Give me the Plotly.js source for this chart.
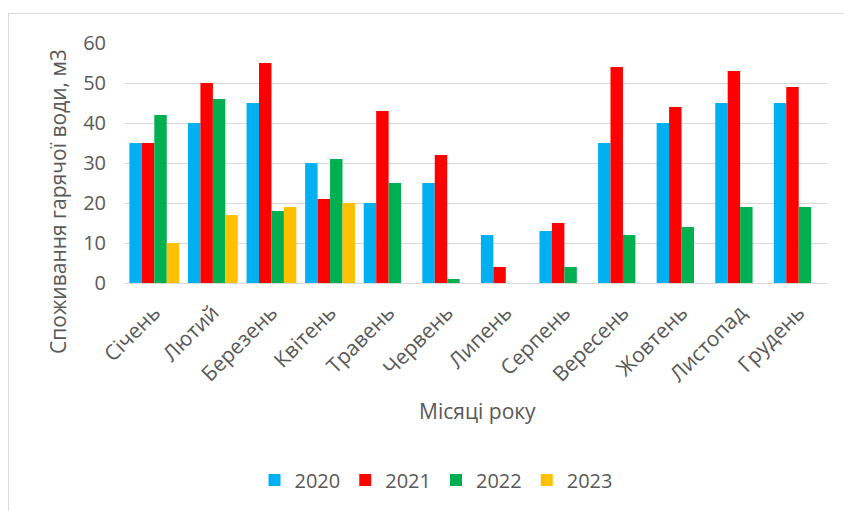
<!DOCTYPE html>
<html>
<head>
<meta charset="utf-8">
<script src="https://cdn.plot.ly/plotly-3.0.1.min.js"></script>
<style>
html,body{margin:0;padding:0;background:#fff;}
#wrap{position:relative;width:844px;height:511px;overflow:hidden;}
#frame{position:absolute;left:8px;top:13px;width:900px;height:600px;border:1px solid #d9d9d9;box-sizing:border-box;pointer-events:none;}
#chart{position:absolute;left:0;top:0;width:844px;height:511px;}
</style>
</head>
<body>
<div id="wrap">
<div id="chart"></div>
<div id="frame"></div>
</div>
<script>
const months = ["Січень","Лютий","Березень","Квітень","Травень","Червень","Липень","Серпень","Вересень","Жовтень","Листопад","Грудень"];
const years = ["2020","2021","2022","2023"];
const v2020 = [35,40,45,30,20,25,12,13,35,40,45,45];
const v2021 = [35,50,55,21,43,32,4,15,54,44,53,49];
const v2022 = [42,46,18,31,25,1,0,4,12,14,19,19];
const v2023 = [10,17,19,20,null,null,null,null,null,null,null,null];
const colors = ["#00B0F0","#FF0000","#00B050","#FFC000"];
const series = [v2020,v2021,v2022,v2023];
const yTitle = "Споживання гарячої води, м3";
const xTitle = "Місяці року";

const FONT = "Open Sans, Noto Sans, sans-serif";
const GREY = "#595959";

const traces = series.map((vals,i)=>({
  type:"bar", x:months, y:vals, name:years[i],
  marker:{color:colors[i]}
}));

const layout = {
  width:844, height:511,
  margin:{l:125,r:16,t:43,b:228},
  paper_bgcolor:"rgba(0,0,0,0)", plot_bgcolor:"#fff",
  barmode:"group", bargap:0.15, bargroupgap:0,
  font:{family:FONT,color:GREY,size:20},
  xaxis:{
    tickangle:-45, tickfont:{size:21,color:GREY}, showgrid:false,
    showline:true, linecolor:"#d9d9d9", linewidth:1, ticks:"",
    ticklabelstandoff:8
  },
  yaxis:{
    range:[0,60], dtick:10, tickfont:{size:20,color:GREY},
    gridcolor:"#d9d9d9", gridwidth:1, zeroline:false, ticks:"",
    ticklabelstandoff:18, fixedrange:true
  },
  showlegend:true,
  legend:{orientation:"h", x:(436-125)/703, xanchor:"center", y:(283-480)/240, yanchor:"middle",
    font:{size:20,color:GREY}, itemwidth:30, traceorder:"normal"},
  annotations:[
    {text:yTitle, xref:"paper", yref:"paper", x:(58-125)/703, y:(283-202)/240,
     xanchor:"center", yanchor:"middle", textangle:-90, showarrow:false,
     font:{size:21,color:GREY}},
    {text:xTitle, xref:"paper", yref:"paper", x:(477-125)/703, y:(283-411)/240,
     xanchor:"center", yanchor:"middle", showarrow:false,
     font:{size:21,color:GREY}}
  ]
};

Plotly.newPlot("chart", traces, layout, {staticPlot:true, displayModeBar:false});
</script>
</body>
</html>
